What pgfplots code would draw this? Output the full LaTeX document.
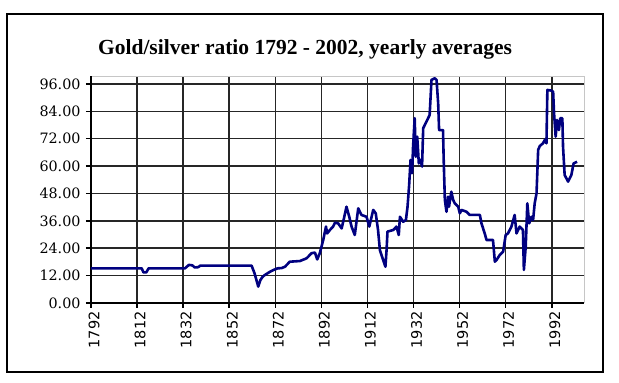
\documentclass[border=0pt]{standalone}
\usepackage{fontspec}
\setmainfont{Liberation Serif}
\newfontfamily\ylabfont{DejaVu Serif}
\newfontfamily\xlabfont{DejaVu Sans}
\usepackage{pgfplots}
\pgfplotsset{compat=1.18}
\definecolor{navy}{RGB}{0,0,128}
\begin{document}
\begin{tikzpicture}[x=1pt,y=1pt]
\path[use as bounding box] (0,0) rectangle (619,383);
\fill[white] (0,0) rectangle (619,383);
\draw[black, line width=1.4pt] (7,11) rectangle (603,369);
\node[font=\fontsize{21.5}{24}\selectfont\bfseries, anchor=base] at (305,328) {Gold/silver ratio 1792 - 2002, yearly averages};
\begin{axis}[
  at={(91pt,80pt)}, anchor=south west,
  width=493pt, height=227pt, scale only axis,
  xmin=1792, xmax=2006, ymin=0, ymax=99.5,
  xtick={1792,1812,1832,1852,1872,1892,1912,1932,1952,1972,1992},
  xticklabels={1792,1812,1832,1852,1872,1892,1912,1932,1952,1972,1992},
  ytick={0,12,24,36,48,60,72,84,96},
  yticklabel style={font=\ylabfont\fontsize{14.3}{16}\selectfont, xshift=-2pt, /pgf/number format/.cd, fixed, fixed zerofill, precision=2, assume math mode=true},
  xticklabel style={font=\xlabfont\fontsize{14.5}{16}\selectfont, rotate=90, anchor=east, yshift=-3pt},
  tick pos=left, tick align=outside, major tick length=5pt,
  tick style={black, line width=1.5pt},
  grid=major, major grid style={black!85, line width=1.5pt},
  axis line style={draw=none},
  clip=false,
]
\draw[gray!45, line width=1pt] (rel axis cs:0,1) -- (rel axis cs:1,1) -- (rel axis cs:1,0);
\draw[black, line width=1.5pt] (rel axis cs:0,1) -- (rel axis cs:0,0) -- (rel axis cs:1,0);
\addplot[navy, line width=2.6pt, line join=round, mark=none] coordinates {
(1792,15.2) (1814,15.2) (1814.8,13.4) (1816,13.4) (1817,15.2) (1832.8,15.2)
(1834.5,16.7) (1836,16.5) (1837,15.6) (1838.5,15.7) (1839.5,16.4) (1861.7,16.4)
(1863,13.0) (1864.6,7.2) (1865.5,10) (1866.5,11.5) (1867.5,12.3) (1869.7,13.7)
(1871.5,14.6) (1873,15.2) (1874.7,15.3) (1876.2,15.9) (1878.3,18.1) (1882.7,18.4)
(1885.6,19.6) (1887.7,21.8) (1889.2,22.1) (1890.2,19.1) (1891.3,21.8) (1892.8,27.6)
(1894,33.5) (1894.5,30.5) (1895.7,32) (1897.1,33.5) (1897.9,35.2) (1899.3,34.9)
(1900.8,32.7) (1901.8,37.1) (1902.9,42.2) (1904.1,37.8) (1905.1,33.5) (1906.5,29.8)
(1908,41.5) (1909.4,38.6) (1911.6,37.8) (1912.8,33.5) (1914.5,40.8) (1915.6,39.3)
(1916.6,32) (1917.4,23.2) (1918.8,18.9) (1919.8,15.9) (1920.3,23.2) (1920.7,31.3)
(1923.2,32) (1924.6,33.5) (1925.6,29.8) (1926.1,37.8) (1927.5,35.6) (1928.7,36.4)
(1929.4,42.2) (1930.1,51.7) (1930.7,62.7) (1931.4,56.9) (1931.8,68.5) (1932.5,81)
(1933,64.1) (1933.6,72.9) (1934.3,61.2) (1935,62.7) (1935.7,59.8) (1936.2,76.6)
(1937.6,79.5) (1939,82.4) (1939.8,97.8) (1941.2,98.5) (1942,97.8) (1942.7,87.5)
(1943.1,75.8) (1944.8,75.8) (1945.1,62.7) (1945.6,45.2) (1946.3,40) (1947,46.6)
(1947.4,42.2) (1948.4,48.8) (1949.2,45.2) (1949.9,43.7) (1951.4,42.2) (1952.1,39.3)
(1952.8,40.8) (1955,40) (1956.4,38.6) (1960.8,38.6) (1961.5,34.9) (1962.9,30.5)
(1963.7,27.6) (1966.5,27.6) (1967.3,18.1) (1968,18.8) (1969.4,21) (1970.9,22.5)
(1972,29.8) (1973,30.5) (1974.5,33.5) (1975.9,38.6) (1976.7,30.5) (1978.1,33.5)
(1979.5,32) (1979.9,14.5) (1980.7,24.7) (1981.4,43.7) (1982.2,34.9) (1983.2,37.8)
(1983.9,36.4) (1984.6,43.7) (1985.4,48.1) (1986.1,67.1) (1986.8,68.8) (1988.2,70)
(1989,71.5) (1989.7,70) (1990.1,93.4) (1991.8,93.1) (1992.6,92.6) (1993,83.2)
(1993.7,72.9) (1994.3,80.2) (1995.1,75.8) (1995.7,81) (1996.6,81) (1996.9,68.5)
(1997.6,56.1) (1999.1,53.2) (2000.5,56.1) (2001.5,61.2) (2003,61.9)
};
\end{axis}
\end{tikzpicture}
\end{document}
